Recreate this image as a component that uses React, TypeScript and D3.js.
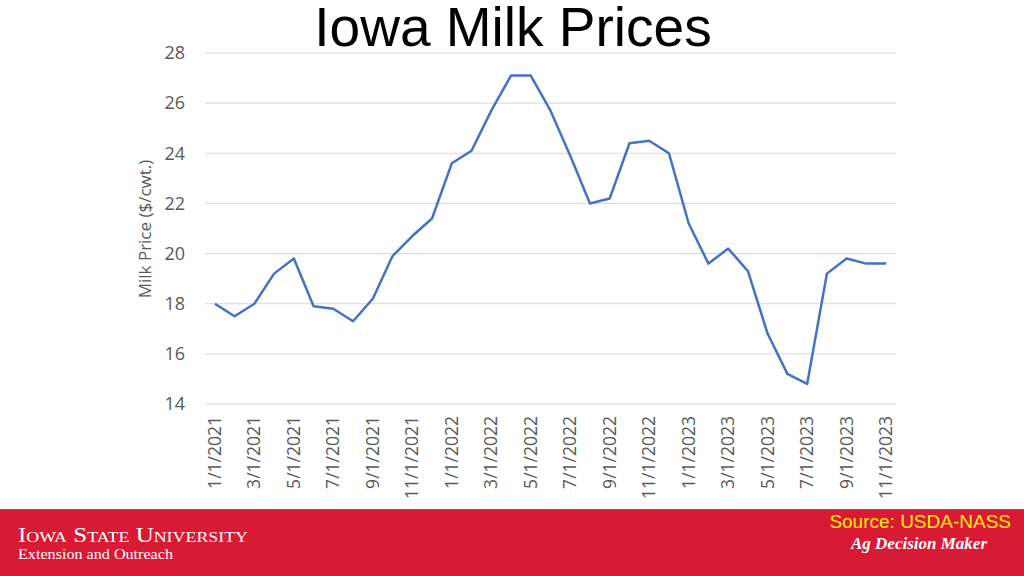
import React from "react";
import * as d3 from "d3";

const months: string[] = [
  "1/1/2021","2/1/2021","3/1/2021","4/1/2021","5/1/2021","6/1/2021","7/1/2021","8/1/2021","9/1/2021","10/1/2021","11/1/2021","12/1/2021",
  "1/1/2022","2/1/2022","3/1/2022","4/1/2022","5/1/2022","6/1/2022","7/1/2022","8/1/2022","9/1/2022","10/1/2022","11/1/2022","12/1/2022",
  "1/1/2023","2/1/2023","3/1/2023","4/1/2023","5/1/2023","6/1/2023","7/1/2023","8/1/2023","9/1/2023","10/1/2023","11/1/2023",
];

const prices: number[] = [
  18.0, 17.5, 18.0, 19.2, 19.8, 17.9, 17.8, 17.3, 18.2, 19.9, 20.7, 21.4,
  23.6, 24.1, 25.7, 27.1, 27.1, 25.7, 23.9, 22.0, 22.2, 24.4, 24.5, 24.0,
  21.2, 19.6, 20.2, 19.3, 16.8, 15.2, 14.8, 19.2, 19.8, 19.6, 19.6,
];

const yTicks: number[] = [14, 16, 18, 20, 22, 24, 26, 28];

const title = "Iowa Milk Prices";
const yTitle = "Milk Price ($/cwt.)";
const sourceText = "Source: USDA-NASS";

export default function App() {
  const W = 1024, H = 576;
  const x = d3.scaleBand<string>().domain(months).range([205, 896]);
  const y = d3.scaleLinear().domain([14, 28]).range([404, 53]);
  const cx = (m: string) => (x(m) as number) + x.bandwidth() / 2;
  const line = d3
    .line<number>()
    .x((_, i) => cx(months[i]))
    .y((v) => y(v));
  const labelMonths = months.filter((_, i) => i % 2 === 0);
  const tickFont = "'Open Sans', sans-serif";

  return (
    <svg
      width={W}
      height={H}
      style={{ position: "fixed", top: 0, left: 0, background: "#fff" }}
    >
      <rect x={0} y={0} width={W} height={H} fill="#fff" />
      <text
        x={513}
        y={46}
        textAnchor="middle"
        fontFamily="'Liberation Sans', Arial, sans-serif"
        fontSize={55}
        fill="#000"
      >
        {title}
      </text>

      {yTicks.map((t) => (
        <g key={t}>
          <line x1={205} x2={896} y1={y(t)} y2={y(t)} stroke="#d9d9d9" strokeWidth={1} />
          <text
            x={185}
            y={y(t)}
            dy="0.35em"
            textAnchor="end"
            fontFamily={tickFont}
            fontSize={18}
            fill="#595959"
          >
            {t}
          </text>
        </g>
      ))}

      <text
        transform={`translate(151,229) rotate(-90)`}
        textAnchor="middle"
        fontFamily={tickFont}
        fontSize={17}
        fill="#595959"
      >
        {yTitle}
      </text>

      {labelMonths.map((m) => (
        <text
          key={m}
          transform={`translate(${cx(m)},416) rotate(-90)`}
          textAnchor="end"
          dy="0.35em"
          fontFamily={tickFont}
          fontSize={17.5}
          fill="#595959"
        >
          {m}
        </text>
      ))}

      <path
        d={line(prices) || ""}
        fill="none"
        stroke="#4472C4"
        strokeWidth={2.5}
        strokeLinejoin="round"
      />

      <rect x={0} y={509} width={W} height={67} fill="#D91A35" />
      <line x1={0} x2={W} y1={509.5} y2={509.5} stroke="#b9485a" strokeWidth={1} />
      <text
        x={18}
        y={542}
        fontFamily="'Liberation Serif', 'Times New Roman', serif"
        fontSize={21}
        fill="#fff"
        style={{ fontVariant: "small-caps" }}
        textLength={230}
        lengthAdjust="spacingAndGlyphs"
      >
        Iowa State University
      </text>
      <text
        x={18}
        y={559}
        fontFamily="'Liberation Serif', 'Times New Roman', serif"
        fontSize={15}
        fill="#fff"
        textLength={155}
        lengthAdjust="spacingAndGlyphs"
      >
        Extension and Outreach
      </text>
      <text
        x={1011}
        y={528}
        textAnchor="end"
        fontFamily="'Liberation Sans', Arial, sans-serif"
        fontSize={19}
        fill="#FFEF00"
      >
        {sourceText}
      </text>
      <text
        x={919}
        y={549}
        textAnchor="middle"
        fontFamily="'Liberation Serif', 'Times New Roman', serif"
        fontSize={17}
        fontStyle="italic"
        fontWeight="bold"
        fill="#fff"
      >
        Ag Decision Maker
      </text>
    </svg>
  );
}
